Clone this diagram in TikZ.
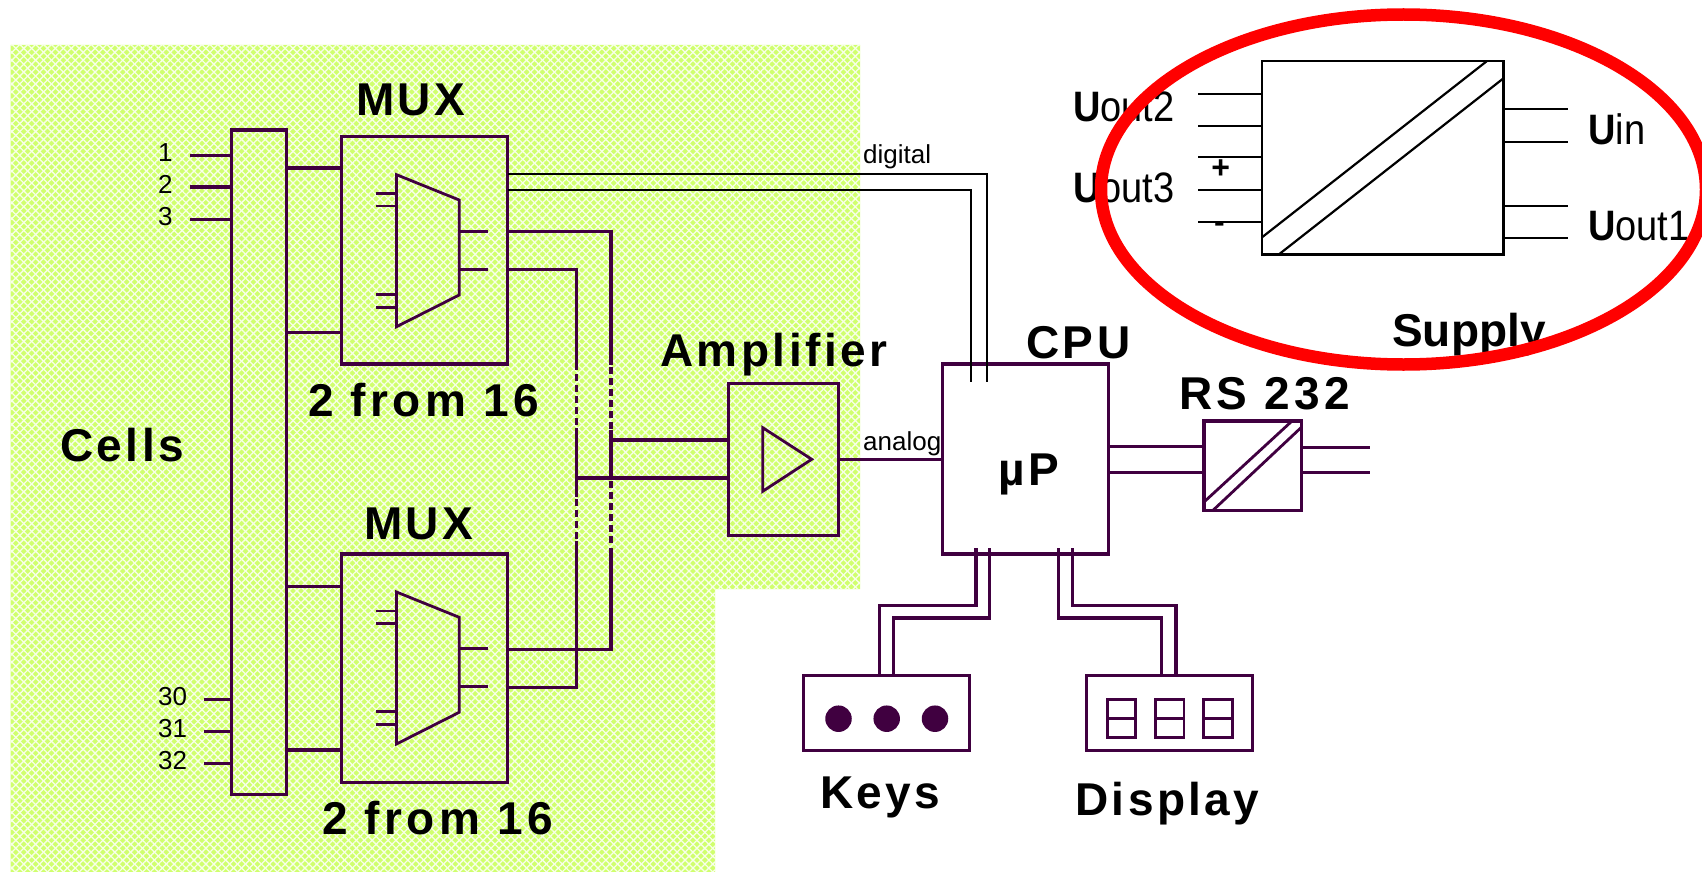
\documentclass[tikz,border=0pt]{standalone}
\usepackage{fontspec}
\setmainfont{Liberation Sans}
\newfontfamily\widefont[LetterSpace=7.5]{Liberation Sans}
\newfontfamily\widerfont[LetterSpace=9.5]{Liberation Sans}
\usetikzlibrary{shapes.geometric,patterns.meta}
\definecolor{mywire}{RGB}{64,0,64}
\definecolor{mylime}{RGB}{208,255,110}
\definecolor{myred}{RGB}{255,0,0}
\newcommand{\widthwire}{3.2pt}
\newcommand{\widthinner}{2.8pt}
\newcommand{\widththin}{1.8pt}
\newcommand{\sizetitle}{\fontsize{46}{46}\selectfont}
\newcommand{\sizeout}{\fontsize{38}{38}\selectfont}
\newcommand{\sizesmall}{\fontsize{26}{26}\selectfont}
\newcommand{\volt}[1]{\scalebox{1}[1.12]{{\bfseries U}#1}}
\tikzset{
    wire/.style={draw=mywire, line width=\widthwire},
    innerwire/.style={draw=mywire, line width=\widthinner},
    thinwire/.style={draw=black, line width=\widththin},
    supplywire/.style={draw=black, line width=2.2pt},
    block/.style={wire, rectangle, inner sep=0pt, outer sep=0pt, anchor=north west},
    supplyblock/.style={block, draw=black, line width=2.4pt},
    title/.style={anchor=base west, inner sep=0pt, font=\sizetitle\widefont\bfseries},
    small/.style={anchor=base west, inner sep=0pt, font=\sizesmall},
    outlabel/.style={anchor=base west, inner sep=0pt, font=\sizeout},
    key/.style={circle, fill=mywire, minimum size=26.5pt, inner sep=0pt},
    digit/.style={block, line width=\widthinner, minimum width=28.5pt, minimum height=38.4pt}
}
% inside of one multiplexer, placed from the corner of its box
\newcommand{\muxinner}[1]{
    \draw[innerwire] ([shift={(55.1,38)}]#1.north west) -- ([shift={(117.8,63.3)}]#1.north west)
        -- ([shift={(117.8,158.3)}]#1.north west) -- ([shift={(55.1,190)}]#1.north west) -- cycle;
    \draw[innerwire]
        ([shift={(34.4,57)}]#1.north west) -- ++(20.7,0)
        ([shift={(34.4,69.3)}]#1.north west) -- ++(20.7,0)
        ([shift={(34.4,157.6)}]#1.north west) -- ++(20.7,0)
        ([shift={(34.4,170.6)}]#1.north west) -- ++(20.7,0)
        ([shift={(117.8,94.6)}]#1.north west) -- ++(28.8,0)
        ([shift={(117.8,132.6)}]#1.north west) -- ++(28.8,0);
}
\begin{document}
\begin{tikzpicture}[x=1pt, y=-1pt]
    \useasboundingbox (0,0) rectangle (1702,872);

    % green field
    \fill[mylime] (10.5,45) -- (860,45) -- (860,589) -- (715,589) -- (715,872) -- (10.5,872) -- cycle;
    \fill[pattern={Lines[angle=45, distance=5.6pt, line width=1.3pt]}, pattern color=white!85!mylime]
        (10.5,45) -- (860,45) -- (860,589) -- (715,589) -- (715,872) -- (10.5,872) -- cycle;
    \fill[pattern={Lines[angle=-45, distance=5.6pt, line width=1.3pt]}, pattern color=white!85!mylime]
        (10.5,45) -- (860,45) -- (860,589) -- (715,589) -- (715,872) -- (10.5,872) -- cycle;

    % blocks
    \node[block, minimum width=55.1pt, minimum height=664.7pt] (cells) at (231.5,130) {};
    \node[block, minimum width=166.1pt, minimum height=227.3pt] (muxa) at (341.4,136.7) {};
    \node[block, minimum width=166.1pt, minimum height=228.7pt] (muxb) at (341.4,554) {};
    \node[block, minimum width=110.4pt, minimum height=152pt] (amp) at (728.3,383.3) {};
    \node[block, minimum width=166pt, minimum height=190pt] (cpu) at (942.5,364) {};
    \node[block, minimum width=97.7pt, minimum height=89.3pt] (rs) at (1204,421) {};
    \node[block, minimum width=166pt, minimum height=75.4pt] (keys) at (803.7,675.3) {};
    \node[block, minimum width=166pt, minimum height=75.4pt] (display) at (1086.3,675.3) {};
    \node[supplyblock, minimum width=241.5pt, minimum height=193pt] (supply) at (1262,61.3) {};

    % cell inputs
    \draw[wire] (cells.west |- 0,155.3) -- ++(-42,0);
    \draw[wire] (cells.west |- 0,187) -- ++(-42,0);
    \draw[wire] (cells.west |- 0,219.3) -- ++(-42,0);
    \draw[wire] (cells.west |- 0,699.3) -- ++(-28,0);
    \draw[wire] (cells.west |- 0,731.3) -- ++(-28,0);
    \draw[wire] (cells.west |- 0,763.3) -- ++(-28,0);

    % cells to multiplexers
    \draw[wire] (cells.east |- 0,168) -- (muxa.west |- 0,168);
    \draw[wire] (cells.east |- 0,332.3) -- (muxa.west |- 0,332.3);
    \draw[wire] (cells.east |- 0,586.7) -- (muxb.west |- 0,586.7);
    \draw[wire] (cells.east |- 0,750) -- (muxb.west |- 0,750);
    \muxinner{muxa}
    \muxinner{muxb}

    % analog bus, the broken parts are single strokes
    \coordinate (busa) at (576.7,269.3);
    \coordinate (busb) at (611,231.3);
    \draw[wire] (muxa.east |- busb) -- (busb) -- (611,365);
    \foreach \y in {367,378,389,400,411,422}
        \draw[wire] (611,\y) -- ++(0,7);
    \draw[wire] (611,430) -- (611,478);
    \foreach \y in {481,492,503,514,525,536}
        \draw[wire] (611,\y) -- ++(0,7);
    \draw[wire] (611,548) -- (611,649.7) -- (muxb.east |- 0,649.7);
    \draw[wire] (muxa.east |- busa) -- (busa) -- (576.7,370);
    \foreach \y in {374,385,396,407,418}
        \draw[wire] (576.7,\y) -- ++(0,7);
    \draw[wire] (576.7,428) -- (576.7,497);
    \foreach \y in {499,510,521,532}
        \draw[wire] (576.7,\y) -- ++(0,7);
    \draw[wire] (576.7,541) -- (576.7,687.3) -- (muxb.east |- 0,687.3);
    \draw[wire] (611,440) -- (amp.west |- 0,440);
    \draw[wire] (576.7,478) -- (amp.west |- 0,478);
    \draw[innerwire] (762.7,427.7) -- (811.7,459.3) -- (762.7,491.3) -- cycle;
    \draw[wire] (amp.east |- 0,459.3) -- (cpu.west |- 0,459.3);

    % digital lines
    \draw[thinwire] (muxa.east |- 0,173.7) -- (987.3,173.7) -- (987.3,382);
    \draw[thinwire] (muxa.east |- 0,189.7) -- (971.3,189.7) -- (971.3,382);

    % cpu to serial port
    \draw[wire] (cpu.east |- 0,446.3) -- (rs.west |- 0,446.3);
    \draw[wire] (cpu.east |- 0,472.3) -- (rs.west |- 0,472.3);
    \draw[wire] (rs.east |- 0,447.3) -- ++(68,0);
    \draw[innerwire] (rs.east |- 0,472.7) -- ++(68,0);
    \draw[innerwire] (rs.west |- 0,502) -- (1292,421);
    \draw[innerwire] (1213,510.3) -- (rs.east |- 0,427);

    % cpu to keys and display
    \draw[wire] (976,548) -- (976,605.7) -- (879.6,605.7) -- (keys.north -| 879.6,0);
    \draw[wire] (989.5,548) -- (989.5,618) -- (893.4,618) -- (keys.north -| 893.4,0);
    \draw[wire] (1058.7,548) -- (1058.7,618) -- (1161.8,618) -- (display.north -| 1161.8,0);
    \draw[wire] (1072.5,548) -- (1072.5,605.7) -- (1176,605.7) -- (display.north -| 1176,0);
    \node[key] (keya) at (838.5,718.7) {};
    \node[key] (keyb) at (886.7,718.7) {};
    \node[key] (keyc) at (935,718.7) {};
    \node[digit] (digita) at (1107.3,699.3) {};
    \node[digit] (digitb) at (1155.5,699.3) {};
    \node[digit] (digitc) at (1203.7,699.3) {};
    \draw[innerwire] (digita.west) -- (digita.east);
    \draw[innerwire] (digitb.west) -- (digitb.east);
    \draw[innerwire] (digitc.west) -- (digitc.east);

    % supply
    \draw[supplywire] (supply.west |- 0,93.7) -- ++(-64,0);
    \draw[supplywire] (supply.west |- 0,125.7) -- ++(-64,0);
    \draw[supplywire] (supply.west |- 0,157.3) -- ++(-64,0);
    \draw[supplywire] (supply.west |- 0,189.7) -- ++(-64,0);
    \draw[supplywire] (supply.west |- 0,221.7) -- ++(-64,0);
    \draw[supplywire] (supply.east |- 0,109.3) -- ++(64,0);
    \draw[supplywire] (supply.east |- 0,141.7) -- ++(64,0);
    \draw[supplywire] (supply.east |- 0,205.7) -- ++(64,0);
    \draw[supplywire] (supply.east |- 0,237.7) -- ++(64,0);
    \draw[supplywire] (supply.west |- 0,237.3) -- (1486.6,61.3);
    \draw[supplywire] (1279,254.3) -- (supply.east |- 0,78.3);

    % texts
    \node[small] (n1) at (158,161) {1};
    \node[small] (n2) at (158,193) {2};
    \node[small] (n3) at (158,225) {3};
    \node[small] (n30) at (158,705) {30};
    \node[small] (n31) at (158,737) {31};
    \node[small] (n32) at (158,769) {32};
    \node[small] (digital) at (863,163) {digital};
    \node[small] (analog) at (863,450) {analog};
    \node[title] (muxatext) at (356,116) {MUX};
    \node[title] (muxbtext) at (364,539) {MUX};
    \node[title, font=\sizetitle\widerfont\bfseries] (fromatext) at (308,416) {2 from 16};
    \node[title, font=\sizetitle\widerfont\bfseries] (frombtext) at (322,834) {2 from 16};
    \node[title] (cellstext) at (60,461) {Cells};
    \node[title] (amptext) at (660,366) {Amplifier};
    \node[title] (cputext) at (1026,358) {CPU};
    \node[title] (uptext) at (998,485) {µP};
    \node[title, font=\sizetitle\widerfont\bfseries] (rstext) at (1179,409) {RS 232};
    \node[title] (keystext) at (820,808) {Keys};
    \node[title] (displaytext) at (1075,815) {Display};
    \node[title, font=\sizetitle\bfseries] (supplytext) at (1392,346.7) {Supply};
    \node[outlabel] (uouttwo) at (1073,122) {\volt{out2}};
    \node[outlabel] (uoutthree) at (1073,202) {\volt{out3}};
    \node[outlabel] (uin) at (1588,144) {\volt{in}};
    \node[outlabel] (uoutone) at (1588,240.7) {\volt{out1}};
    \node[font=\fontsize{32}{32}\selectfont\bfseries, inner sep=0pt] (plus) at (1220.7,169) {+};
    \node[font=\fontsize{32}{32}\selectfont\bfseries, inner sep=0pt] (minus) at (1219.4,227) {-};

    % red ring
    \begin{scope}
        \clip (0,0) rectangle (1702,872);
        \node[ellipse, draw=myred, line width=12.5pt, inner sep=0pt, outer sep=0pt, minimum width=605pt, minimum height=350pt] (ring) at (1403.5,189.5) {};
    \end{scope}
\end{tikzpicture}
\end{document}
